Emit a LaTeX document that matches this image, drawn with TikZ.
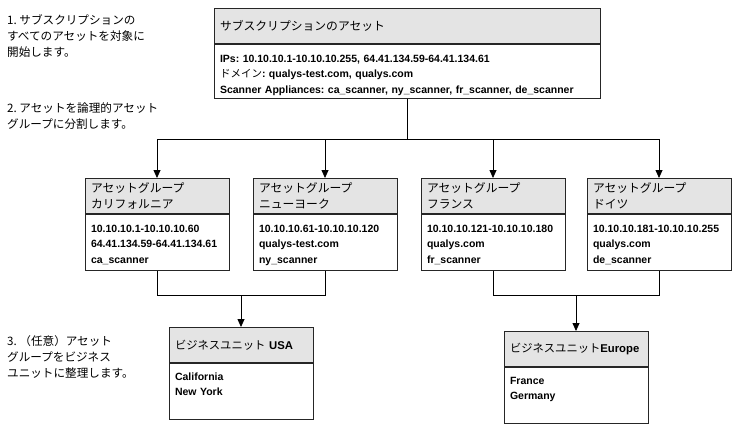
\documentclass[tikz,border=0pt]{standalone}
\usepackage{fontspec}
\setmainfont{Liberation Sans}
\newfontfamily\jp{Noto Sans CJK JP}
\usetikzlibrary{positioning,arrows.meta}
\frenchspacing

\definecolor{hdrgray}{RGB}{228,228,228}
\newcommand\latin[1]{{\rmfamily\bfseries #1}}

\tikzset{
  hdr/.style={draw=black!85, fill=hdrgray, line width=0.9bp, inner xsep=6bp, inner ysep=0pt,
    minimum height=35bp, text width=#1, align=left,
    font=\jp\fontsize{11.8bp}{16bp}\selectfont},
  hdr/.default=132bp,
  unithdr/.style={hdr, font=\jp\fontsize{11.3bp}{16bp}\selectfont},
  body/.style={draw=black!85, line width=0.9bp, inner xsep=6bp, inner ysep=6bp,
    text width=#1, align=left, text height=12bp, text depth=32bp,
    font=\bfseries\fontsize{10.5bp}{15.5bp}\selectfont},
  body/.default=132bp,
  unitbody/.style={body, text height=11bp, text depth=33bp},
  note/.style={align=left, inner sep=0pt, font=\jp\fontsize{11.6bp}{15.7bp}\selectfont},
  link/.style={line width=0.8bp},
  arr/.style={link, -{Triangle[width=7bp,length=8bp]}}
}

\begin{document}
\begin{tikzpicture}[x=1bp,y=-1bp]
\useasboundingbox (0,0) rectangle (733,423);

% steps on the left
\node[note, anchor=west] (stepone) at (7,36) {1. サブスクリプションの\\すべてのアセットを対象に\\開始します。};
\node[note, anchor=west] (steptwo) at (7,116) {2. アセットを論理的アセット\\グループに分割します。};
\node[note, anchor=west] (stepthree) at (7,357) {3. （任意）アセット\\グループをビジネス\\ユニットに整理します。};

% subscription
\node[hdr=374bp, anchor=north] (subhdr) at (407,8) {サブスクリプションのアセット};
\node[body=374bp, text depth=30bp, below=0pt of subhdr] (subbody)
  {IPs: 10.10.10.1-10.10.10.255, 64.41.134.59-64.41.134.61\\
   {\jp\mdseries ドメイン}: qualys-test.com, qualys.com\\
   Scanner Appliances: ca\_scanner, ny\_scanner, fr\_scanner, de\_scanner};

% asset groups
\node[hdr, anchor=north] (cahdr) at (157,178) {アセットグループ\\カリフォルニア};
\node[body, below=0pt of cahdr] (cabody) {10.10.10.1-10.10.10.60\\64.41.134.59-64.41.134.61\\ca\_scanner};
\node[hdr, anchor=north] (nyhdr) at (325,178) {アセットグループ\\ニューヨーク};
\node[body, below=0pt of nyhdr] (nybody) {10.10.10.61-10.10.10.120\\qualys-test.com\\ny\_scanner};
\node[hdr, anchor=north] (frhdr) at (493,178) {アセットグループ\\フランス};
\node[body, below=0pt of frhdr] (frbody) {10.10.10.121-10.10.10.180\\qualys.com\\fr\_scanner};
\node[hdr, anchor=north] (dehdr) at (659,178) {アセットグループ\\ドイツ};
\node[body, below=0pt of dehdr] (debody) {10.10.10.181-10.10.10.255\\qualys.com\\de\_scanner};

% business units
\node[unithdr, anchor=north] (usahdr) at (241,327) {ビジネスユニット \latin{USA}};
\node[unitbody, below=0pt of usahdr] (usabody) {California\\New York};
\node[unithdr, anchor=north] (euhdr) at (576,331) {ビジネスユニット\latin{Europe}};
\node[unitbody, below=0pt of euhdr] (eubody) {France\\Germany};

% connectors
\path (subbody.south) ++(0,41) coordinate (fork);
\draw[link] (subbody.south) -- (fork);
\foreach \g in {ca,ny,fr,de}
  \draw[arr] (fork) -| (\g hdr.north);

\path (cabody.south) ++(0,25) coordinate (usajoin);
\draw[link] (cabody.south) -- (usajoin) -| (nybody.south);
\draw[arr] (usajoin -| usahdr.north) -- (usahdr.north);

\path (frbody.south) ++(0,25) coordinate (eujoin);
\draw[link] (frbody.south) -- (eujoin) -| (debody.south);
\draw[arr] (eujoin -| euhdr.north) -- (euhdr.north);
\end{tikzpicture}
\end{document}
